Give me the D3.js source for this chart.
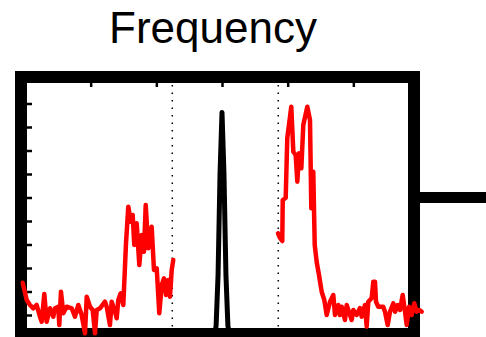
<!DOCTYPE html>
<html>
<head>
<meta charset="utf-8">
<script src="https://cdn.jsdelivr.net/npm/d3@7"></script>
<style>
  html, body { margin: 0; padding: 0; background: #fff; }
  svg { display: block; }
</style>
</head>
<body>
<svg id="chart" width="486" height="337"></svg>
<script>
// Spectrum below the low cutoff (frequency, amplitude)
const lowFreq = [-3.035,-2.974,-2.924,-2.874,-2.822,-2.772,-2.746,-2.706,-2.670,-2.619,-2.569,-2.543,-2.493,-2.478,-2.452,-2.417,-2.365,-2.289,-2.239,-2.188,-2.137,-2.086,-2.060,-2.010,-1.969,-1.934,-1.908,-1.858,-1.782,-1.756,-1.706,-1.680,-1.629,-1.604,-1.579,-1.543,-1.503,-1.462,-1.427,-1.390,-1.360,-1.336,-1.299,-1.259,-1.223,-1.188,-1.162,-1.122,-1.071,-1.036,-0.994,-0.955,-0.918,-0.883,-0.853,-0.818,-0.792,-0.766,-0.742];
const lowAmp  = [2.374,1.638,1.426,1.285,1.426,0.928,0.715,1.894,0.715,1.285,0.928,1.285,1.353,0.574,1.991,1.072,1.353,1.285,0.928,1.426,1.000,0.221,1.779,1.353,1.213,0.221,1.213,1.285,1.566,1.353,0.574,1.566,1.140,0.860,1.638,1.923,1.426,4.051,5.609,4.970,5.255,3.979,4.902,3.128,4.404,3.694,5.681,3.838,4.757,2.915,2.987,1.072,2.277,2.562,1.851,2.489,1.779,2.915,3.340];

// Spectrum above the high cutoff
const highFreq = [0.853,0.883,0.918,0.925,0.970,0.994,1.055,1.086,1.122,1.147,1.173,1.208,1.238,1.299,1.340,1.360,1.390,1.412,1.442,1.477,1.518,1.558,1.594,1.645,1.695,1.721,1.771,1.797,1.823,1.873,1.899,1.949,1.975,2.000,2.051,2.102,2.127,2.178,2.203,2.228,2.280,2.304,2.330,2.345,2.380,2.456,2.482,2.523,2.558,2.609,2.635,2.676,2.711,2.752,2.787,2.813,2.848,2.889,2.928,2.965,3.000,3.041];
const highAmp  = [4.477,4.277,4.149,5.894,5.979,8.519,9.864,7.949,7.809,6.672,7.881,7.243,9.085,9.864,9.298,5.540,7.098,3.979,3.255,2.702,1.991,1.638,1.000,1.566,1.851,1.000,1.426,1.000,1.353,0.787,1.426,1.000,0.787,1.213,1.000,1.298,0.928,1.426,0.502,1.566,1.723,2.417,2.417,1.566,1.353,1.353,1.140,0.574,1.140,1.498,1.140,1.426,1.213,1.851,1.140,0.574,1.353,1.000,1.498,1.140,1.213,1.140];

// Narrow central peak
const peakFreq = [-0.15,-0.12,-0.09,-0.06,-0.03,0,0.03,0.06,0.09,0.12,0.15];
const peakAmp  = [0,0.06,0.54,2.7,7.0,9.62,7.0,2.7,0.54,0.06,0];

// Cutoff markers
const cutoffs = [-0.757, 0.857];

// Axis ticks
const xTicks = [-2,-1,0,1,2];
const yTicks = [1,2,3,4,5,6,7,8,9,10];

// Level of the output stub on the right
const outputLevel = 6;

const titleText = "Frequency";

const svg = d3.select("#chart");

const x = d3.scaleLinear().domain([-3, 3]).range([25, 419]);
const y = d3.scaleLinear().domain([0, 11]).range([338.5, 80]);

// Plot box edges (inner)
const box = { left: 27, right: 408, top: 83, bottom: 328 };

// Title
svg.append("text")
  .attr("x", 213)
  .attr("y", 43)
  .attr("text-anchor", "middle")
  .attr("font-family", "'Liberation Sans', Arial, sans-serif")
  .attr("font-size", 44)
  .attr("fill", "#000")
  .text(titleText);

// Output stub line
svg.append("line")
  .attr("x1", 414).attr("x2", 490)
  .attr("y1", y(outputLevel)).attr("y2", y(outputLevel))
  .attr("stroke", "#000")
  .attr("stroke-width", 11);

// Thick frame
svg.append("rect")
  .attr("x", 21).attr("y", 77)
  .attr("width", 393).attr("height", 257)
  .attr("fill", "none")
  .attr("stroke", "#000")
  .attr("stroke-width", 12);

// Top ticks
const xAxis = d3.axisTop(x).tickValues(xTicks).tickSize(-4).tickFormat("");
const gx = svg.append("g").attr("transform", `translate(0,${box.top})`).call(xAxis);
gx.select(".domain").remove();
gx.selectAll(".tick line").attr("stroke", "#000").attr("stroke-width", 2.5);

// Left ticks
const yAxis = d3.axisLeft(y).tickValues(yTicks).tickSize(-5).tickFormat("");
const gy = svg.append("g").attr("transform", `translate(${box.left},0)`).call(yAxis);
gy.select(".domain").remove();
gy.selectAll(".tick line").attr("stroke", "#000").attr("stroke-width", 2.5);

// Dotted cutoff lines
svg.selectAll("line.cutoff")
  .data(cutoffs)
  .join("line")
  .attr("class", "cutoff")
  .attr("x1", d => x(d)).attr("x2", d => x(d))
  .attr("y1", box.top + 2).attr("y2", box.bottom)
  .attr("stroke", "#000")
  .attr("stroke-width", 1.5)
  .attr("stroke-dasharray", "1.5,6");

const line = d3.line()
  .x(d => x(d[0]))
  .y(d => y(d[1]));

// Central peak
svg.append("path")
  .datum(d3.zip(peakFreq, peakAmp))
  .attr("d", line)
  .attr("fill", "none")
  .attr("stroke", "#000")
  .attr("stroke-width", 5)
  .attr("stroke-linejoin", "round");

// Red spectra
[[lowFreq, lowAmp], [highFreq, highAmp]].forEach(([f, a]) => {
  svg.append("path")
    .datum(d3.zip(f, a))
    .attr("d", line)
    .attr("fill", "none")
    .attr("stroke", "#ff0000")
    .attr("stroke-width", 4.5)
    .attr("stroke-linejoin", "round")
    .attr("stroke-linecap", "round");
});
</script>
</body>
</html>
